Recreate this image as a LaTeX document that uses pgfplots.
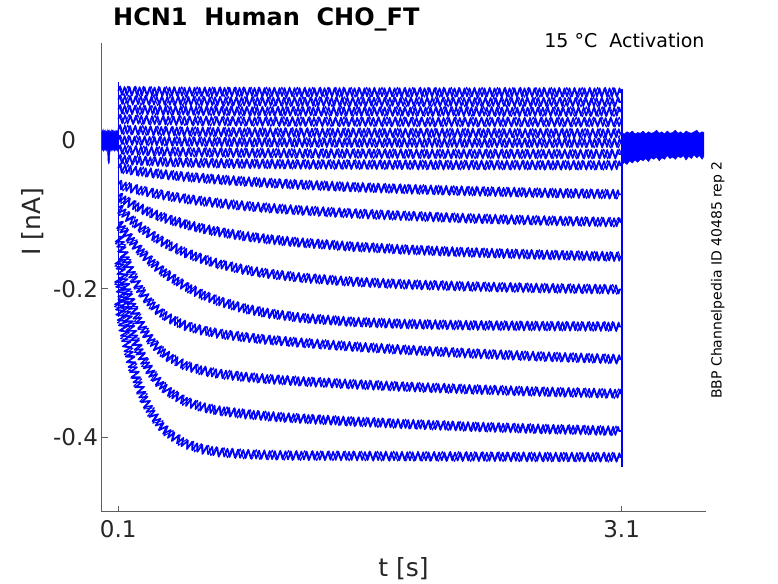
\documentclass[border=0pt]{standalone}
\usepackage{fontspec}
\setmainfont{DejaVu Sans}
\usepackage{pgfplots}
\usepackage{pgfplotstable}
\pgfplotsset{compat=1.18}
\usetikzlibrary{decorations.pathmorphing}
\definecolor{txt}{RGB}{38,38,38}
\definecolor{axc}{RGB}{95,95,95}

% slow-activating traces (mean current, nA)
\pgfplotstableread{
t A B C D E F G H I
0.10 -0.2150 -0.1850 -0.1600 -0.1300 -0.1116 -0.0908 -0.0761 -0.0600 -0.0380
0.12 -0.2410 -0.2067 -0.1786 -0.1452 -0.1182 -0.0954 -0.0788 -0.0613 -0.0385
0.14 -0.2635 -0.2257 -0.1948 -0.1585 -0.1244 -0.0998 -0.0814 -0.0625 -0.0391
0.16 -0.2835 -0.2425 -0.2093 -0.1702 -0.1304 -0.1039 -0.0838 -0.0637 -0.0397
0.18 -0.3007 -0.2570 -0.2217 -0.1805 -0.1359 -0.1079 -0.0863 -0.0650 -0.0406
0.20 -0.3161 -0.2701 -0.2329 -0.1897 -0.1413 -0.1117 -0.0885 -0.0661 -0.0415
0.23 -0.3355 -0.2866 -0.2470 -0.2015 -0.1490 -0.1171 -0.0917 -0.0678 -0.0424
0.26 -0.3513 -0.3001 -0.2587 -0.2112 -0.1560 -0.1221 -0.0948 -0.0692 -0.0433
0.30 -0.3680 -0.3146 -0.2712 -0.2216 -0.1646 -0.1282 -0.0986 -0.0712 -0.0444
0.35 -0.3836 -0.3284 -0.2831 -0.2318 -0.1742 -0.1351 -0.1029 -0.0734 -0.0458
0.40 -0.3949 -0.3386 -0.2919 -0.2395 -0.1828 -0.1414 -0.1067 -0.0755 -0.0471
0.50 -0.4088 -0.3518 -0.3035 -0.2498 -0.1970 -0.1517 -0.1135 -0.0791 -0.0494
0.60 -0.4158 -0.3593 -0.3102 -0.2561 -0.2082 -0.1601 -0.1190 -0.0823 -0.0514
0.70 -0.4199 -0.3641 -0.3145 -0.2606 -0.2169 -0.1668 -0.1237 -0.0850 -0.0533
0.85 -0.4225 -0.3685 -0.3186 -0.2652 -0.2267 -0.1745 -0.1293 -0.0886 -0.0557
1.00 -0.4238 -0.3717 -0.3217 -0.2689 -0.2334 -0.1801 -0.1337 -0.0916 -0.0579
1.20 -0.4245 -0.3749 -0.3248 -0.2729 -0.2395 -0.1855 -0.1383 -0.0948 -0.0603
1.50 -0.4250 -0.3787 -0.3286 -0.2779 -0.2447 -0.1907 -0.1435 -0.0989 -0.0634
1.80 -0.4254 -0.3819 -0.3318 -0.2822 -0.2474 -0.1941 -0.1473 -0.1020 -0.0659
2.20 -0.4259 -0.3856 -0.3354 -0.2871 -0.2493 -0.1971 -0.1513 -0.1055 -0.0688
2.60 -0.4263 -0.3885 -0.3384 -0.2910 -0.2503 -0.1992 -0.1542 -0.1082 -0.0710
3.10 -0.4267 -0.3915 -0.3414 -0.2950 -0.2510 -0.2011 -0.1571 -0.1109 -0.0732
}\lowtraces

% nearly flat traces
\pgfplotstableread{
t J1 J2 J3 J4 J5 J6 J7 J8
0.10 0.0660 0.0540 0.0410 0.0280 0.0140 0.0000 -0.0130 -0.0260
0.30 0.0653 0.0530 0.0400 0.0266 0.0123 -0.0014 -0.0151 -0.0288
0.50 0.0649 0.0524 0.0394 0.0258 0.0113 -0.0022 -0.0163 -0.0304
0.80 0.0646 0.0518 0.0388 0.0251 0.0104 -0.0029 -0.0173 -0.0318
1.20 0.0643 0.0515 0.0385 0.0246 0.0098 -0.0034 -0.0181 -0.0328
2.00 0.0641 0.0512 0.0382 0.0242 0.0093 -0.0038 -0.0187 -0.0336
3.10 0.0640 0.0510 0.0380 0.0240 0.0090 -0.0040 -0.0190 -0.0340
}\hightraces

\pgfplotsset{
  tr/.style={blue, line width=1.6pt, line join=round, decorate,
    decoration={zigzag, segment length=#1, amplitude=4.1pt}},
  tq/.style={blue, line width=0.9pt, line join=round, decorate,
    decoration={zigzag, segment length=#1, amplitude=5.0pt}},
}

\begin{document}
\begin{tikzpicture}
\begin{axis}[
  scale only axis, width=604pt, height=468.4pt,
  xmin=0, xmax=3.6, ymin=-0.5, ymax=0.13,
  axis x line*=bottom, axis y line*=left,
  axis line style={axc, line width=0.8pt, -},
  xtick={0.1,3.1}, xticklabels={0.1,3.1},
  ytick={-0.4,-0.2,0}, yticklabels={-0.4,-0.2,0\phantom{.0}},
  tick align=inside, major tick length=6pt,
  tick style={axc, line width=0.8pt},
  ticklabel style={font=\fontsize{23}{28}\selectfont, text=txt},
  xticklabel style={yshift=-5.6pt},
  xlabel={t [s]}, ylabel={I [nA]},
  xlabel style={font=\fontsize{25}{30}\selectfont, text=txt,
    at={(axis description cs:0.5,-0.1373)}, anchor=base},
  ylabel style={font=\fontsize{25}{30}\selectfont, text=txt,
    at={(axis description cs:-0.101,0.6185)}, anchor=base},
]
% holding level before the step
\addplot[draw=blue, fill=blue, line width=0.5pt] coordinates {
(0.002,0.009) (0.006,0.013) (0.010,0.010) (0.014,0.014) (0.018,0.010)
(0.022,0.013) (0.026,0.009) (0.030,0.012) (0.034,0.010) (0.038,0.014)
(0.042,0.010) (0.046,0.013) (0.050,0.009) (0.054,0.012) (0.058,0.010)
(0.062,0.014) (0.066,0.011) (0.070,0.013) (0.074,0.009) (0.078,0.012)
(0.082,0.010) (0.086,0.013) (0.090,0.011) (0.094,0.013) (0.098,0.010)
(0.098,-0.012) (0.094,-0.015) (0.090,-0.011) (0.086,-0.014) (0.082,-0.012)
(0.078,-0.015) (0.074,-0.011) (0.070,-0.014) (0.066,-0.012) (0.062,-0.015)
(0.058,-0.012) (0.054,-0.014) (0.050,-0.016) (0.047,-0.030) (0.043,-0.032)
(0.039,-0.029) (0.036,-0.014) (0.032,-0.012) (0.028,-0.015) (0.024,-0.011)
(0.020,-0.014) (0.016,-0.012) (0.012,-0.015) (0.008,-0.011) (0.004,-0.014)
(0.002,-0.012)} --cycle;
% holding level after the step
\addplot[draw=blue, fill=blue, line width=0.5pt] coordinates {
(3.100,0.010) (3.116,0.008) (3.132,0.011) (3.148,0.009) (3.164,0.012)
(3.180,0.008) (3.196,0.010) (3.212,0.009) (3.228,0.012) (3.244,0.008)
(3.260,0.011) (3.276,0.009) (3.292,0.010) (3.308,0.013) (3.324,0.009)
(3.340,0.011) (3.356,0.008) (3.372,0.012) (3.388,0.009) (3.404,0.010)
(3.420,0.013) (3.436,0.009) (3.452,0.011) (3.468,0.008) (3.484,0.012)
(3.500,0.010) (3.516,0.009) (3.532,0.011) (3.548,0.013) (3.564,0.009)
(3.580,0.011) (3.590,0.010)
(3.590,-0.022) (3.580,-0.026) (3.564,-0.021) (3.548,-0.024) (3.532,-0.020)
(3.516,-0.025) (3.500,-0.022) (3.484,-0.027) (3.468,-0.021) (3.452,-0.024)
(3.436,-0.022) (3.420,-0.026) (3.404,-0.023) (3.388,-0.025) (3.372,-0.021)
(3.356,-0.026) (3.340,-0.024) (3.324,-0.028) (3.308,-0.023) (3.292,-0.026)
(3.276,-0.024) (3.260,-0.029) (3.244,-0.025) (3.228,-0.028) (3.212,-0.026)
(3.196,-0.030) (3.180,-0.027) (3.164,-0.031) (3.148,-0.028) (3.132,-0.033)
(3.116,-0.030) (3.100,-0.034)} --cycle;
% step traces
\addplot[tr=5.0pt] table[x=t,y=J1] {\hightraces};
\addplot[tr=5.3pt] table[x=t,y=J2] {\hightraces};
\addplot[tr=5.1pt] table[x=t,y=J3] {\hightraces};
\addplot[tr=5.4pt] table[x=t,y=J4] {\hightraces};
\addplot[tr=5.2pt] table[x=t,y=J5] {\hightraces};
\addplot[tr=5.0pt] table[x=t,y=J6] {\hightraces};
\addplot[tr=5.3pt] table[x=t,y=J7] {\hightraces};
\addplot[tr=5.1pt] table[x=t,y=J8] {\hightraces};
\addplot[tr=5.2pt] table[x=t,y=I] {\lowtraces};
\addplot[tr=5.4pt] table[x=t,y=H] {\lowtraces};
\addplot[tr=5.0pt] table[x=t,y=G] {\lowtraces};
\addplot[tr=5.3pt] table[x=t,y=F] {\lowtraces};
\addplot[tr=5.1pt] table[x=t,y=E] {\lowtraces};
\addplot[tr=5.4pt] table[x=t,y=D] {\lowtraces};
\addplot[tr=5.2pt] table[x=t,y=C] {\lowtraces};
\addplot[tr=5.0pt] table[x=t,y=B] {\lowtraces};
\addplot[tr=5.3pt] table[x=t,y=A] {\lowtraces};
% irregular spikes on top of the ripple
\addplot[tq=7.7pt] table[x=t,y=J1] {\hightraces};
\addplot[tq=8.3pt] table[x=t,y=J2] {\hightraces};
\addplot[tq=7.9pt] table[x=t,y=J3] {\hightraces};
\addplot[tq=8.6pt] table[x=t,y=J4] {\hightraces};
\addplot[tq=7.5pt] table[x=t,y=J5] {\hightraces};
\addplot[tq=8.1pt] table[x=t,y=J6] {\hightraces};
\addplot[tq=7.8pt] table[x=t,y=J7] {\hightraces};
\addplot[tq=8.4pt] table[x=t,y=J8] {\hightraces};
\addplot[tq=7.6pt] table[x=t,y=I] {\lowtraces};
\addplot[tq=8.2pt] table[x=t,y=H] {\lowtraces};
\addplot[tq=7.9pt] table[x=t,y=G] {\lowtraces};
\addplot[tq=8.5pt] table[x=t,y=F] {\lowtraces};
\addplot[tq=7.7pt] table[x=t,y=E] {\lowtraces};
\addplot[tq=8.0pt] table[x=t,y=D] {\lowtraces};
\addplot[tq=8.3pt] table[x=t,y=C] {\lowtraces};
\addplot[tq=7.8pt] table[x=t,y=B] {\lowtraces};
\addplot[tq=8.1pt] table[x=t,y=A] {\lowtraces};
% step edges
\addplot[blue, line width=1.4pt] coordinates {(0.1,0.078) (0.1,-0.238)};
\addplot[blue, line width=2pt] coordinates {(3.1,0.069) (3.1,-0.44)};
\end{axis}
\node[anchor=base west, inner sep=0pt, font=\bfseries\fontsize{24}{29}\selectfont]
  at (11.5pt,485.7pt) {HCN1\ \ Human\ \ CHO\_FT};
\node[anchor=base east, inner sep=0pt, font=\fontsize{19}{23}\selectfont]
  at (603.2pt,464.4pt) {15 °C\ \ Activation};
\node[anchor=base, rotate=90, inner sep=0pt, font=\fontsize{14}{17}\selectfont]
  at (620.2pt,231.7pt) {BBP Channelpedia ID 40485 rep 2};
\pgfresetboundingbox
\path[use as bounding box] (-101.5pt,-71.3pt) rectangle (676.5pt,511.7pt);
\end{tikzpicture}
\end{document}
